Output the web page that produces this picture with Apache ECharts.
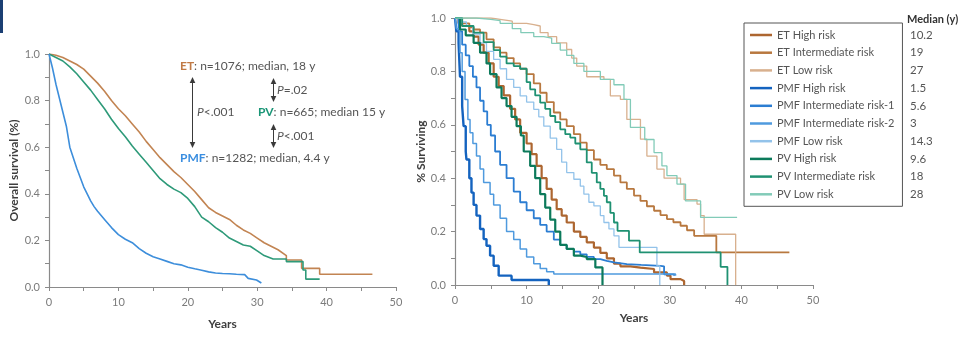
<!DOCTYPE html>
<html><head><meta charset="utf-8">
<script src="https://cdn.jsdelivr.net/npm/echarts@6/dist/echarts.min.js"></script>
<style>html,body{margin:0;padding:0;background:#fff}#c{width:960px;height:341px}</style>
</head><body><div id="c"></div>
<script>
// ---------- Left panel: overall survival by disease (time in years, survival fraction)
const overallET = [[0,1],[1,0.995],[2,0.985],[3,0.97],[4,0.955],[5,0.935],[6,0.905],[7,0.875],[8,0.84],[9,0.80],[10,0.765],[11,0.735],[12,0.70],[13,0.665],[14,0.625],[15,0.59],[16,0.555],[17,0.525],[18,0.495],[19,0.47],[20,0.44],[21,0.41],[22,0.375],[23,0.34],[24,0.32],[25,0.305],[26,0.29],[27,0.265],[28,0.245],[29,0.23],[30,0.21],[31,0.19],[32,0.175],[33,0.16],[34.2,0.135],[34.2,0.116],[36.4,0.116],[36.4,0.08],[39,0.08],[39,0.055],[46.6,0.055]];
const overallPV = [[0,1],[1,0.985],[2,0.97],[3,0.945],[4,0.915],[5,0.88],[6,0.845],[7,0.805],[8,0.765],[9,0.72],[10,0.68],[11,0.645],[12,0.605],[13,0.57],[14,0.535],[15,0.5],[16,0.465],[17,0.44],[18,0.42],[19,0.405],[20,0.38],[21,0.345],[22,0.30],[23,0.28],[24,0.255],[25,0.235],[26,0.21],[27,0.195],[28,0.18],[29,0.175],[30,0.155],[31,0.135],[32.3,0.12],[34.2,0.12],[34.2,0.109],[36.6,0.109],[36.6,0.073],[37,0.073],[37,0.034],[39,0.034]];
const overallPMF = [[0,1],[0.5,0.94],[1,0.87],[1.5,0.81],[2,0.75],[2.5,0.69],[3,0.60],[3.5,0.555],[4,0.51],[4.5,0.47],[5,0.43],[5.5,0.40],[6,0.37],[6.5,0.345],[7,0.325],[8,0.29],[9,0.255],[10,0.225],[11,0.205],[12,0.19],[13,0.165],[14,0.145],[15,0.13],[16,0.12],[17,0.11],[18,0.10],[19,0.095],[20,0.085],[21,0.078],[22,0.072],[23,0.065],[24,0.06],[25,0.058],[26,0.057],[27,0.055],[28.2,0.053],[28.7,0.037],[29.9,0.03],[30.6,0.017]];

// ---------- Right panel: survival by risk group
const etHigh = [[0,1],[0.5,0.98],[1,0.97],[2,0.95],[2.6,0.93],[3.3,0.90],[4,0.87],[4.7,0.83],[5.4,0.78],[6.1,0.745],[6.8,0.71],[7.7,0.66],[8.4,0.62],[9.1,0.57],[10,0.53],[10.7,0.49],[11.4,0.446],[12.1,0.40],[12.8,0.36],[13.5,0.32],[14.2,0.284],[14.9,0.26],[15.6,0.234],[16.6,0.20],[17.5,0.18],[18.4,0.16],[19.4,0.14],[20.3,0.12],[21.2,0.10],[22.2,0.08],[23.1,0.07],[24.5,0.065],[25.9,0.06],[27.8,0.047],[29.6,0.035],[30.1,0.022],[31.5,0.015],[32,0]];
const etInt = [[0,1],[1,0.98],[2,0.965],[2.6,0.957],[3.5,0.945],[4.4,0.92],[5.4,0.89],[6.3,0.87],[7.2,0.85],[8.2,0.83],[9.1,0.81],[10,0.79],[11,0.755],[11.9,0.72],[12.8,0.685],[13.8,0.646],[14.7,0.62],[15.6,0.595],[16.6,0.565],[17.5,0.533],[18.4,0.505],[19.4,0.47],[20.3,0.45],[21.2,0.434],[22.2,0.41],[23.1,0.384],[24,0.36],[25,0.335],[25.9,0.315],[26.8,0.295],[27.8,0.278],[28.7,0.262],[29.6,0.247],[30.5,0.235],[31.5,0.222],[32.4,0.205],[33.4,0.184],[36.5,0.122],[46.7,0.122]];
const etLow = [[0,1],[3,1],[5,0.995],[6.3,0.988],[8,0.98],[10,0.975],[11,0.97],[11.9,0.945],[13,0.93],[14.2,0.907],[15.6,0.882],[16.3,0.85],[17,0.82],[18.4,0.78],[20.8,0.77],[21.7,0.708],[23.1,0.695],[24,0.62],[25.9,0.546],[26.8,0.483],[28.2,0.434],[29.2,0.40],[31.5,0.378],[32,0.32],[33.8,0.303],[34.3,0.26],[34.8,0.19],[39.2,0]];
const pmfHigh = [[0,1],[0.2,0.95],[0.5,0.907],[0.7,0.78],[1.0,0.67],[1.2,0.595],[1.5,0.5],[1.6,0.47],[2.0,0.40],[2.3,0.346],[2.6,0.30],[3.0,0.26],[3.5,0.21],[4.0,0.172],[4.4,0.147],[4.9,0.11],[5.4,0.072],[6.1,0.035],[7.9,0.019],[13.1,0]];
const pmfInt1 = [[0,1],[0.5,0.95],[1,0.90],[1.5,0.86],[2,0.82],[2.5,0.78],[3,0.74],[3.5,0.69],[4,0.65],[4.5,0.60],[5,0.56],[5.6,0.50],[6.3,0.45],[7.2,0.40],[8.2,0.35],[9.1,0.31],[10,0.28],[11,0.25],[11.9,0.225],[12.8,0.20],[13.8,0.17],[14.7,0.15],[15.6,0.135],[16.6,0.125],[17.5,0.115],[18.4,0.105],[19.4,0.097],[20.3,0.09],[21.2,0.085],[22.2,0.078],[24,0.075],[26,0.072],[28.7,0.07],[29.2,0.04],[30.6,0.035]];
const pmfInt2 = [[0,1],[0.2,0.96],[0.7,0.87],[1.0,0.80],[1.4,0.695],[1.8,0.62],[2.1,0.57],[2.5,0.53],[3.0,0.483],[3.5,0.434],[4.0,0.384],[4.9,0.34],[5.4,0.30],[6.3,0.25],[7.2,0.20],[8.2,0.17],[9.1,0.135],[10,0.105],[11,0.08],[11.9,0.062],[12.8,0.05],[13.8,0.041],[29.6,0.041],[30.8,0.035]];
const pmfLow = [[0,1],[0.8,0.985],[1.6,0.97],[2.5,0.94],[3.5,0.907],[4.4,0.875],[5.4,0.845],[6.3,0.81],[7.2,0.77],[8.2,0.74],[9.1,0.708],[10,0.685],[11,0.658],[11.7,0.63],[12.4,0.595],[13.3,0.55],[14.2,0.508],[14.9,0.46],[15.6,0.421],[16.6,0.396],[17.5,0.37],[18,0.34],[18.7,0.31],[19.4,0.296],[20.3,0.26],[20.8,0.234],[21.5,0.21],[22.2,0.184],[22.9,0.141],[28.2,0.072],[28.6,0]];
const pvHigh = [[0,1],[0.7,0.957],[1.5,0.935],[2.6,0.907],[3.5,0.87],[4.4,0.83],[4.9,0.79],[5.8,0.74],[6.5,0.70],[7.2,0.67],[7.9,0.63],[8.6,0.595],[9.2,0.56],[9.6,0.5],[10.5,0.446],[11.2,0.40],[11.9,0.34],[12.6,0.29],[13.3,0.245],[14,0.20],[14.7,0.15],[15.6,0.135],[16.6,0.11],[17.5,0.105],[18.4,0.097],[19.6,0.066],[20.6,0]];
const pvInt = [[0,1],[1,0.97],[2.6,0.945],[4,0.91],[5.4,0.88],[6.3,0.855],[7.2,0.83],[8.2,0.82],[9.1,0.81],[10,0.76],[10.5,0.733],[11.2,0.71],[11.9,0.683],[12.6,0.66],[13.3,0.633],[14,0.61],[14.7,0.583],[15.4,0.565],[16.1,0.552],[16.8,0.53],[17.5,0.508],[18.4,0.459],[19.1,0.42],[19.8,0.384],[20.3,0.36],[20.8,0.334],[21.2,0.31],[21.7,0.27],[22.2,0.234],[22.7,0.203],[24.3,0.166],[25.8,0.122],[37.1,0.068],[38.05,0]];
const pvLow = [[0,1],[3,0.995],[5,0.99],[6.3,0.98],[8,0.96],[9.2,0.945],[11,0.93],[12.4,0.925],[13.5,0.905],[14.7,0.88],[15.6,0.86],[16.6,0.83],[18,0.80],[20.3,0.77],[22.2,0.75],[23.6,0.695],[24.5,0.59],[26.5,0.545],[27.8,0.496],[28.9,0.446],[29.6,0.41],[31.0,0.378],[32.2,0.315],[34.3,0.253],[39.4,0.253]];

const riskNames = ['ET High risk','ET Intermediate risk','ET Low risk','PMF High risk','PMF Intermediate risk-1','PMF Intermediate risk-2','PMF Low risk','PV High risk','PV Intermediate risk','PV Low risk'];
const riskData = [etHigh, etInt, etLow, pmfHigh, pmfInt1, pmfInt2, pmfLow, pvHigh, pvInt, pvLow];
const medians = ['10.2','19','27','1.5','5.6','3','14.3','9.6','18','28'];
const riskColors = ['#ad6630','#b8783f','#d8b08e','#1463bf','#2b7dd2','#4f9ade','#93c3ea','#0c7a5b','#1f9172','#82cbb8'];
const riskWidths = [2.2,1.8,1.3,2.4,1.8,1.5,1.3,2.2,1.8,1.3];

const FONT = 'Lato, "Open Sans", sans-serif';
const LABEL = '#7b7b7b';

function axisCommon(isY, gridIndex, name, gap) {
  return {
    type:'value', gridIndex, min:0, max: isY ? 1 : 50, interval: isY ? 0.1 : 5,
    name, nameLocation:'middle', nameGap:gap,
    nameTextStyle:{fontFamily:FONT, fontWeight:'bold', fontSize:12, color:'#3f3f3f'},
    axisLine:{show:true, lineStyle:{color:'#8a8a8a', width:1.2}},
    axisTick:{show:true, length:4, lineStyle:{color:'#8a8a8a'}},
    splitLine:{show:false},
    axisLabel:{fontFamily:FONT, fontSize:11, color:LABEL, margin: isY ? 9 : 10,
      formatter: isY ? (v => (Math.round(v*10)%2===0 ? v.toFixed(1) : ''))
                     : (v => (Math.round(v)%10===0 ? String(Math.round(v)) : ''))}
  };
}

// left panel: large cohorts, nearly continuous curves
const series = [
  {name:'ET', data:overallET, color:'#c28452'},
  {name:'PV', data:overallPV, color:'#2e9a79'},
  {name:'PMF', data:overallPMF, color:'#3d8edb'}
].map(s => ({type:'line', name:s.name, xAxisIndex:0, yAxisIndex:0, data:s.data, symbol:'none',
  lineStyle:{color:s.color, width:1.6}, itemStyle:{color:s.color}, silent:true}));

// right panel: Kaplan-Meier step curves
riskNames.forEach((n,i) => series.push({type:'line', name:n, xAxisIndex:1, yAxisIndex:1, data:riskData[i], step:'end', symbol:'none',
  lineStyle:{color:riskColors[i], width:riskWidths[i]}, itemStyle:{color:riskColors[i]}, silent:true}));

// annotation graphics
const TXT = '#555';
function txt(x, y, text, rich) {
  return {type:'text', x, y, style:{text, fill:TXT, font:'12px ' + FONT, verticalAlign:'middle', rich}};
}
const italicP = {i:{fontStyle:'italic', fill:TXT, fontSize:12, fontFamily:FONT}};
function arrow(x, y1, y2) {
  const c = '#3a3a3a';
  return [
    {type:'line', shape:{x1:x, y1:y1+3, x2:x, y2:y2-3}, style:{stroke:c, lineWidth:1}},
    {type:'polygon', shape:{points:[[x,y1],[x-2.8,y1+6],[x+2.8,y1+6]]}, style:{fill:c}},
    {type:'polygon', shape:{points:[[x,y2],[x-2.8,y2-6],[x+2.8,y2-6]]}, style:{fill:c}}
  ];
}
const graphic = [
  {type:'rect', shape:{x:0, y:0, width:3, height:33}, style:{fill:'#1b3f73'}},
  txt(180, 66, '{a|ET}: n=1076; median, 18 y', {a:{fill:'#c07a45', fontWeight:'bold', fontSize:12, fontFamily:FONT}}),
  txt(258, 112, '{a|PV}: n=665; median 15 y', {a:{fill:'#1b9677', fontWeight:'bold', fontSize:12, fontFamily:FONT}}),
  txt(180, 158, '{a|PMF}: n=1282; median, 4.4 y', {a:{fill:'#3a8ee0', fontWeight:'bold', fontSize:12, fontFamily:FONT}}),
  txt(197, 112, '{i|P}<.001', italicP),
  txt(277, 90, '{i|P}=.02', italicP),
  txt(277, 136, '{i|P}<.001', italicP),
  ...arrow(192.5, 77, 148),
  ...arrow(273.5, 78, 102),
  ...arrow(273.5, 124, 148),
  {type:'text', x:907, y:19, style:{text:'Median (y)', fill:'#333', font:'bold 11px ' + FONT, verticalAlign:'middle'}}
];
medians.forEach((m,i) => graphic.push({type:'text', x:910, y:35 + i*17.7, style:{text:m, fill:TXT, font:'11.5px ' + FONT, verticalAlign:'middle'}}));

const chart = echarts.init(document.getElementById('c'), null, {renderer:'canvas'});
chart.setOption({
  animation:false,
  backgroundColor:'#fff',
  grid:[
    {left:49, top:54, width:347, height:233},
    {left:455, top:18, width:358, height:267}
  ],
  xAxis:[axisCommon(false,0,'Years',31), axisCommon(false,1,'Years',27)],
  yAxis:[axisCommon(true,0,'Overall survival (%)',29), axisCommon(true,1,'% Surviving',25)],
  legend:{
    data: riskNames, orient:'vertical', left:744, top:23,
    icon:'rect', itemWidth:22, itemHeight:2.5, itemGap:3.7,
    padding:[5,8,5,6], borderColor:'#555', borderWidth:1,
    textStyle:{fontFamily:FONT, fontSize:11, color:'#555', lineHeight:14},
    selectedMode:false
  },
  series,
  graphic
});
</script>
</body></html>
